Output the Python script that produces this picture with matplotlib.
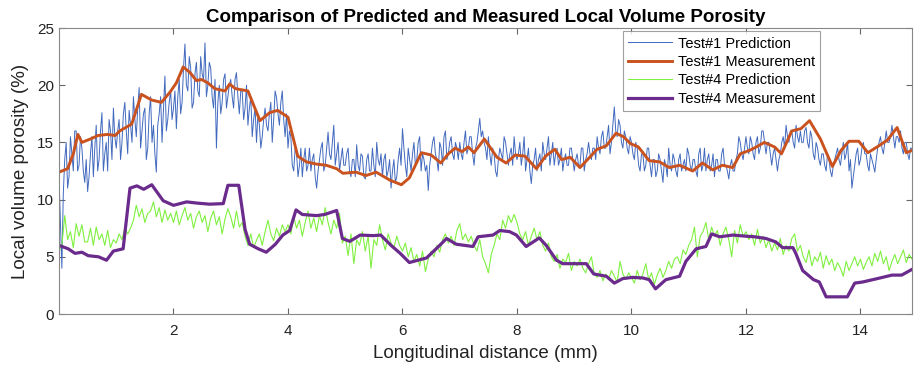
import numpy as np
import matplotlib.pyplot as plt

plt.rcParams['font.family'] = ['Liberation Sans', 'DejaVu Sans']

# sample spacing of the prediction traces (mm)
step = 0.05

# Test#1 prediction at 0, 0.05, 0.10 ... (one row per mm)
pred1 = [
    12.0, 4.0, 13.5, 11.0, 15.5, 12.5, 16.0, 13.0, 14.5, 11.5, 10.7, 14.0, 12.0, 16.5, 13.5, 17.6, 14.0, 12.5, 16.0, 18.0,
    14.5, 17.0, 15.0, 18.5, 14.0, 16.5, 19.0, 15.5, 19.8, 16.0, 18.0, 14.5, 19.0, 16.5, 12.4, 17.5, 15.0, 20.8, 17.0, 19.5,
    18.0, 16.2, 20.5, 18.5, 23.6, 19.5, 21.5, 18.5, 22.0, 19.0, 21.0, 23.7, 20.0, 21.5, 18.0, 14.5, 20.0, 18.5, 21.0, 19.0,
    20.5, 18.0, 21.1, 17.5, 19.5, 18.0, 16.5, 19.0, 17.0, 15.0, 16.5, 15.5, 18.0, 16.0, 18.5, 17.0, 18.9, 16.5, 19.5, 15.5,
    14.5, 15.5, 12.5, 14.0, 13.0, 12.0, 14.5, 13.0, 12.5, 14.0, 11.0, 13.5, 15.0, 13.0, 15.9, 13.5, 16.5, 14.0, 12.5, 14.5,
    13.0, 14.5, 12.0, 13.5, 14.8, 12.5, 13.8, 11.8, 14.0, 12.5, 13.0, 15.0, 13.0, 12.0, 14.0, 12.5, 11.0, 13.5, 12.0, 14.5,
    16.2, 13.0, 14.5, 12.5, 15.0, 13.5, 15.5, 14.0, 12.5, 10.8, 14.0, 15.5, 13.5, 15.0, 13.0, 16.0, 14.0, 15.5, 13.5, 14.5,
    15.0, 13.5, 16.0, 14.5, 15.5, 13.0, 15.0, 17.1, 16.0, 14.5, 15.5, 13.0, 14.0, 12.0, 14.5, 13.5, 15.0, 13.0, 14.5, 15.5,
    13.5, 15.0, 14.0, 12.5, 14.5, 11.4, 13.5, 12.5, 14.0, 15.0, 13.5, 15.5, 14.0, 13.0, 14.5, 13.5, 12.5, 14.0, 13.0, 14.5,
    12.5, 14.0, 13.0, 14.5, 13.5, 15.0, 13.5, 14.5, 15.5, 14.0, 16.0, 14.5, 16.5, 15.0, 18.1, 15.5, 16.5, 14.5, 15.5, 14.0,
    15.0, 13.5, 14.5, 12.5, 14.0, 13.0, 14.5, 12.0, 13.5, 12.5, 13.5, 11.5, 13.0, 14.5, 12.5, 13.5, 12.0, 14.0, 13.0, 12.5,
    14.0, 12.5, 13.5, 12.0, 14.5, 13.0, 12.5, 14.0, 13.0, 12.0, 13.5, 12.5, 14.5, 13.0, 11.8, 13.5, 12.5, 14.0, 15.0, 13.5,
    15.5, 14.0, 15.0, 13.5, 15.5, 14.5, 16.0, 14.0, 15.0, 13.0, 14.5, 12.5, 14.0, 15.5, 16.5, 15.0, 16.0, 14.5, 15.5, 16.0,
    15.0, 16.3, 14.5, 15.5, 13.5, 14.5, 13.0, 14.0, 12.5, 13.5, 12.0, 13.5, 14.5, 13.0, 15.0, 14.0, 12.5, 11.0, 13.0, 14.5,
    13.5, 15.0, 14.0, 12.5, 13.5, 12.4, 14.5, 15.5, 14.0, 16.0, 15.0, 16.5, 14.5, 15.5, 16.0, 14.0, 15.0, 13.5, 14.5,
]

# Test#1 prediction at 0.025, 0.075, ... (in between the samples above)
pred1_mid = [
    8.0, 10.5, 15.0, 12.0, 14.0, 16.0, 12.5, 15.5, 12.5, 13.5, 12.0, 15.5, 14.5, 12.5, 16.0, 12.5, 15.0, 17.0, 13.5, 15.5,
    16.0, 13.5, 17.5, 16.0, 17.8, 15.0, 17.0, 18.0, 14.5, 17.5, 13.5, 17.5, 15.0, 14.0, 16.5, 19.0, 18.0, 16.0, 18.5, 17.0,
    19.5, 19.0, 17.5, 21.5, 20.0, 22.5, 18.0, 21.0, 19.5, 22.5, 20.5, 19.0, 22.0, 19.0, 20.5, 18.5, 17.5, 20.5, 18.0, 20.0,
    19.0, 20.5, 19.0, 19.5, 17.0, 20.0, 18.0, 15.5, 18.0, 17.5, 14.5, 17.0, 16.5, 17.5, 15.0, 19.5, 17.5, 18.5, 17.0, 17.5,
    16.0, 13.0, 14.5, 12.0, 14.5, 13.5, 12.5, 14.5, 13.5, 12.0, 12.5, 14.5, 12.5, 14.5, 14.0, 15.0, 13.0, 15.0, 13.5, 13.0,
    14.0, 12.5, 13.5, 12.0, 13.0, 14.0, 12.0, 13.5, 12.5, 14.5, 12.0, 13.5, 14.0, 13.5, 12.0, 13.5, 12.5, 11.5, 13.5, 13.0,
    14.5, 12.0, 13.5, 14.0, 13.0, 15.0, 12.5, 13.5, 13.0, 13.0, 15.0, 14.0, 12.5, 14.5, 15.5, 13.5, 15.0, 14.0, 15.0, 13.5,
    14.0, 15.0, 14.0, 15.5, 14.0, 14.5, 16.0, 15.5, 15.0, 13.5, 14.0, 14.5, 12.5, 13.5, 14.0, 15.5, 14.0, 14.0, 13.0, 14.0,
    14.0, 13.0, 15.5, 13.5, 12.5, 13.0, 14.5, 13.5, 12.5, 14.0, 14.5, 13.0, 15.0, 14.0, 13.0, 14.5, 13.5, 13.0, 14.5, 13.5,
    13.5, 13.0, 14.5, 12.5, 14.0, 14.0, 14.5, 13.5, 14.5, 15.5, 14.5, 15.5, 14.0, 16.5, 16.0, 17.0, 15.0, 16.0, 14.5, 15.5,
    14.0, 15.0, 13.0, 14.0, 12.5, 14.5, 13.0, 13.5, 12.0, 14.0, 12.5, 13.5, 12.0, 13.0, 14.0, 12.5, 13.5, 12.5, 13.5, 14.5,
    13.0, 13.5, 12.5, 14.0, 12.5, 14.5, 13.5, 12.5, 14.0, 13.5, 12.5, 14.0, 13.0, 12.5, 13.0, 12.5, 13.5, 15.5, 14.0, 14.5,
    14.5, 15.5, 14.0, 15.0, 14.0, 16.0, 15.0, 15.0, 14.0, 14.0, 13.5, 13.5, 15.0, 14.5, 15.5, 16.0, 15.0, 16.5, 15.0, 15.0,
    16.0, 15.0, 16.0, 14.0, 15.0, 13.5, 14.0, 13.0, 14.0, 12.5, 13.0, 14.0, 13.5, 14.0, 13.5, 15.0, 13.5, 12.0, 14.0, 13.0,
    14.5, 14.0, 13.0, 14.0, 13.0, 13.5, 15.0, 14.5, 15.0, 15.0, 15.5, 15.5, 15.5, 15.0, 14.5, 15.0, 14.0, 14.5, 14.0,
]

# Test#4 prediction, one row per mm
pred4 = [
    5.5, 6.0, 8.6, 6.5, 7.2, 5.8, 7.9, 6.8, 7.8, 6.3, 6.3, 7.5, 6.0, 7.6, 6.5, 7.0, 6.0, 7.3, 5.8, 6.5,
    6.2, 7.0, 6.5, 7.5, 7.0, 7.5, 8.2, 9.5, 8.5, 9.2, 8.0, 8.8, 9.0, 9.8, 8.5, 9.3, 8.0, 9.1, 8.2, 8.8,
    8.0, 9.0, 7.8, 8.6, 9.3, 8.2, 8.8, 7.5, 8.5, 9.0, 8.0, 8.6, 7.2, 8.4, 9.0, 7.8, 8.5, 7.0, 8.3, 9.2,
    8.5, 7.5, 9.0, 7.6, 8.0, 6.8, 6.0, 7.0, 5.8, 6.45, 7.0, 6.0, 7.2, 8.2, 7.0, 6.4, 7.5, 6.8, 7.8, 7.2,
    7.8, 7.0, 8.5, 7.5, 8.2, 6.8, 8.0, 9.0, 7.5, 8.4, 7.2, 8.6, 7.8, 9.3, 8.0, 7.0, 8.2, 7.5, 8.8, 6.2,
    6.8, 5.1, 7.0, 4.4, 6.5, 6.0, 7.2, 5.5, 6.8, 4.0, 6.5, 6.0, 7.8, 6.5, 5.6, 7.0, 6.2, 5.8, 6.8, 6.0,
    5.5, 6.2, 5.0, 5.8, 4.6, 5.2, 4.2, 5.5, 3.7, 4.8, 5.5, 5.0, 6.0, 5.4, 6.5, 7.0, 6.2, 6.8, 6.0, 7.3,
    7.9, 6.5, 7.0, 6.3, 6.8, 6.0, 5.5, 6.5, 5.0, 4.4, 3.6, 5.2, 6.0, 7.0, 6.5, 8.2, 7.5, 8.6, 8.0, 8.7,
    8.0, 7.0, 6.5, 7.2, 6.0, 6.8, 7.5, 6.5, 7.2, 6.0, 5.5, 6.2, 5.0, 4.6, 5.2, 4.0, 4.8, 4.5, 5.3, 3.8,
    4.6, 4.2, 4.8, 4.0, 3.6, 4.4, 5.0, 3.5, 3.2, 3.8, 2.9, 3.5, 3.0, 3.8, 3.3, 2.8, 4.6, 3.5, 3.0, 3.6,
    3.2, 2.7, 3.8, 3.0, 3.5, 4.4, 3.0, 3.6, 2.6, 3.4, 4.0, 3.2, 3.8, 4.6, 4.0, 4.8, 5.0, 4.4, 5.6, 5.2,
    6.0, 6.5, 7.6, 5.0, 6.8, 7.2, 8.0, 6.5, 7.6, 6.8, 7.3, 6.0, 7.0, 7.6, 6.5, 5.0, 7.3, 6.2, 7.8, 6.8,
    7.2, 6.5, 7.0, 6.0, 7.4, 6.2, 6.8, 5.8, 6.5, 5.5, 6.2, 5.6, 6.6, 5.2, 6.0, 5.5, 6.6, 7.0, 5.5, 6.0,
    5.0, 4.5, 5.6, 4.2, 5.0, 4.6, 5.4, 4.0, 5.1, 4.3, 4.8, 3.8, 4.5, 4.0, 3.3, 4.6, 3.8, 4.4, 5.0, 4.2,
    4.8, 3.9, 4.5, 5.0, 4.2, 5.3, 4.6, 5.5, 4.4, 5.0, 3.8, 4.6, 5.2, 4.4, 5.0, 5.6, 4.5, 5.2, 4.8,
]

# Test#1 measurement (distance, porosity)
meas1 = [
    (0, 12.4), (0.15, 12.7), (0.25, 14.0), (0.33, 15.7), (0.40, 15.0), (0.55, 15.3), (0.68, 15.6),
    (0.85, 15.7), (0.98, 15.6), (1.06, 16.0), (1.27, 16.6), (1.44, 19.2), (1.62, 18.7), (1.79, 18.5),
    (1.94, 19.4), (2.05, 20.2), (2.17, 21.6), (2.29, 21.1), (2.40, 20.4), (2.49, 20.5), (2.60, 20.2),
    (2.72, 19.7), (2.90, 19.5), (2.98, 20.1), (3.08, 19.7), (3.30, 19.5), (3.51, 16.9), (3.68, 17.6),
    (3.82, 17.8), (4.0, 17.2), (4.17, 13.8), (4.32, 13.3), (4.50, 13.1), (4.67, 13.0), (4.85, 12.7),
    (4.96, 12.3), (5.19, 12.4), (5.36, 12.1), (5.54, 12.4), (5.78, 11.7), (5.98, 11.3), (6.12, 11.9),
    (6.33, 14.1), (6.50, 13.9), (6.67, 13.2), (6.80, 14.0), (6.92, 14.5), (7.04, 14.2), (7.15, 14.6),
    (7.25, 14.1), (7.43, 15.3), (7.65, 13.7), (7.81, 13.2), (7.97, 13.9), (8.14, 13.8), (8.34, 12.7),
    (8.50, 13.8), (8.66, 14.4), (8.78, 13.5), (8.93, 13.7), (9.10, 12.8), (9.27, 13.7), (9.40, 14.4),
    (9.56, 14.7), (9.73, 15.8), (9.86, 15.5), (9.98, 14.9), (10.12, 14.6), (10.31, 13.4), (10.49, 13.3),
    (10.66, 12.8), (10.84, 13.0), (11.07, 12.5), (11.24, 13.2), (11.42, 12.6), (11.59, 13.0),
    (11.77, 12.8), (11.90, 14.0), (12.06, 14.3), (12.18, 14.6), (12.32, 15.0), (12.50, 14.6),
    (12.62, 14.0), (12.80, 16.0), (12.96, 16.2), (13.11, 16.9), (13.30, 15.3), (13.51, 12.9),
    (13.66, 14.3), (13.80, 15.1), (13.97, 15.1), (14.13, 14.1), (14.32, 14.7), (14.47, 15.2),
    (14.64, 16.3), (14.80, 14.1), (14.9, 14.3),
]

# Test#4 measurement (distance, porosity)
meas4 = [
    (0, 6.0), (0.16, 5.7), (0.28, 5.3), (0.40, 5.4), (0.51, 5.1), (0.69, 5.0), (0.83, 4.7), (0.95, 5.5),
    (1.12, 5.7), (1.24, 11.0), (1.36, 11.2), (1.48, 10.9), (1.62, 11.3), (1.82, 9.9), (2.0, 9.5),
    (2.23, 9.8), (2.40, 9.7), (2.63, 9.6), (2.87, 9.65), (2.95, 11.25), (3.14, 11.25), (3.25, 7.4),
    (3.33, 6.1), (3.48, 5.7), (3.62, 5.4), (3.78, 6.1), (3.91, 6.9), (4.03, 7.3), (4.14, 9.1),
    (4.25, 8.7), (4.50, 8.6), (4.64, 8.7), (4.85, 9.05), (4.95, 6.6), (5.08, 6.35), (5.26, 6.9),
    (5.49, 6.85), (5.62, 6.9), (5.80, 6.0), (5.96, 5.3), (6.12, 4.5), (6.42, 4.9), (6.65, 6.0),
    (6.77, 6.6), (6.94, 6.1), (7.23, 5.9), (7.32, 6.75), (7.58, 6.9), (7.70, 7.3), (7.87, 7.2),
    (7.99, 6.9), (8.16, 5.9), (8.39, 6.65), (8.51, 6.0), (8.69, 4.7), (8.80, 4.4), (9.21, 4.4),
    (9.34, 3.5), (9.56, 3.3), (9.70, 2.7), (9.85, 3.1), (10.02, 3.2), (10.20, 3.15), (10.31, 3.0),
    (10.42, 2.2), (10.60, 3.0), (10.84, 3.3), (10.95, 4.6), (11.13, 5.7), (11.30, 5.9), (11.40, 7.0),
    (11.54, 6.75), (11.77, 6.9), (12.0, 6.8), (12.15, 6.75), (12.35, 6.6), (12.52, 6.3), (12.64, 5.8),
    (12.82, 5.8), (12.87, 5.3), (12.99, 3.8), (13.18, 3.0), (13.28, 2.8), (13.40, 1.5), (13.77, 1.5),
    (13.90, 2.7), (14.04, 2.8), (14.30, 3.1), (14.55, 3.4), (14.72, 3.4), (14.9, 3.9),
]

# interleave the two blue sample sets
x1 = np.column_stack([np.arange(len(pred1)) * step,
                      np.arange(len(pred1_mid)) * step + step / 2]).ravel()
y1 = np.column_stack([pred1, pred1_mid]).ravel()
x4 = np.arange(len(pred4)) * step
m1x, m1y = np.array(meas1).T
m4x, m4y = np.array(meas4).T

fig = plt.figure(figsize=(9.14, 3.74), dpi=100)
ax = fig.add_axes([59/914, 60/374, 853/914, 286/374])

ax.plot(x1, y1, color='#4169be', lw=0.7, label='Test#1 Prediction')
ax.plot(m1x, m1y, color='#c9521f', lw=2.1, label='Test#1 Measurement')
ax.plot(x4, pred4, color='#80f040', lw=0.8, label='Test#4 Prediction')
ax.plot(m4x, m4y, color='#6a2b8c', lw=2.3, label='Test#4 Measurement')

ax.set_xlim(0, 14.9)
ax.set_ylim(0, 25)
ax.set_xticks([2, 4, 6, 8, 10, 12, 14])
ax.set_yticks([0, 5, 10, 15, 20, 25])
ax.tick_params(direction='in', top=True, right=True, length=4, width=0.8,
               color='#666666', labelsize=11, labelcolor='#222222')
ax.tick_params(axis='x', pad=7)
for s in ax.spines.values():
    s.set_color('#888888')
    s.set_linewidth(0.8)

ax.set_xlabel('Longitudinal distance (mm)', fontsize=13.5, color='#222222', labelpad=5)
ax.set_ylabel('Local volume porosity (%)', fontsize=13.5, color='#222222', labelpad=6)
ax.set_title('Comparison of Predicted and Measured Local Volume Porosity',
             fontsize=13.5, fontweight='bold', pad=4)

leg = ax.legend(loc='upper left', bbox_to_anchor=(0.661, 0.988), fontsize=10.5,
                frameon=True, fancybox=False, handlelength=3.0, handletextpad=0.4,
                labelspacing=0.3, borderpad=0.35, borderaxespad=0)
leg.get_frame().set_edgecolor('#888888')
leg.get_frame().set_linewidth(0.8)

plt.savefig('out.png', dpi=100)
